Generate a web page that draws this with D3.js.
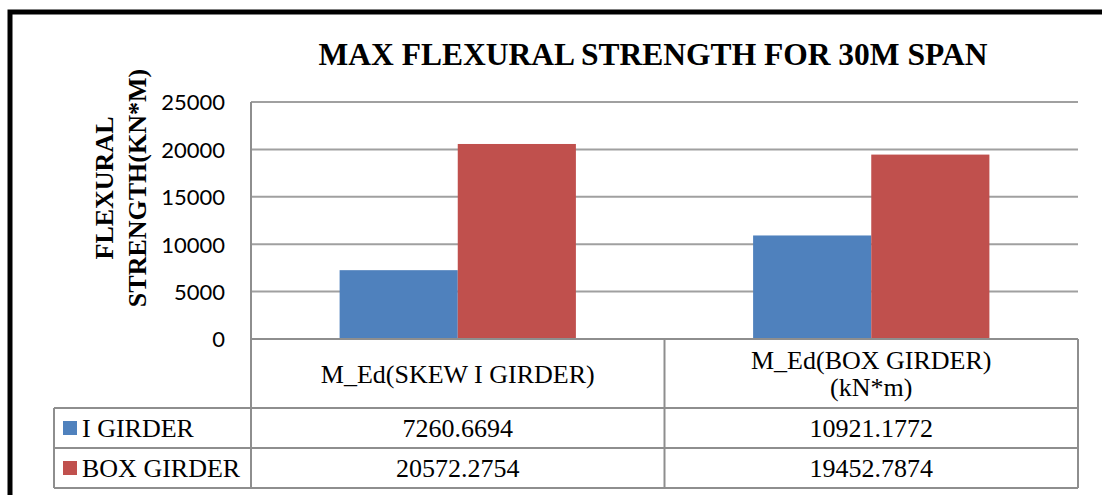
<!DOCTYPE html>
<html>
<head>
<meta charset="utf-8">
<script src="https://cdn.jsdelivr.net/npm/d3@7/dist/d3.min.js"></script>
<style>
	html, body { margin: 0; padding: 0; background: #fff; }
	svg { display: block; }
</style>
</head>
<body>
<div id="chart"></div>
<script>
// chart data
const categories = ["M_Ed(SKEW I GIRDER)", "M_Ed(BOX GIRDER)\n(kN*m)"];
const seriesNames = ["I GIRDER", "BOX GIRDER"];
const iGirder = [7260.6694, 10921.1772];
const boxGirder = [20572.2754, 19452.7874];
const tableLabels = [["7260.6694", "10921.1772"], ["20572.2754", "19452.7874"]];
const yTicks = [0, 5000, 10000, 15000, 20000, 25000];
const colors = ["#4f81bd", "#c0504d"];

const W = 1102, H = 495;
const plot = { left: 251, right: 1078, top: 102, bottom: 339 };
const rowH = [69, 40, 40]; // category row, then one row per series
const legendLeft = 54;
const GRID = "#a0a0a0", TABLE = "#8e8e8e";
const serif = "'Liberation Serif', 'Times New Roman', serif";

const svg = d3.select("#chart").append("svg")
	.attr("width", W)
	.attr("height", H);

// outer frame (goes off the right and bottom of the picture)
svg.append("rect")
	.attr("x", 10).attr("y", 12)
	.attr("width", W + 20).attr("height", H + 20)
	.attr("fill", "#fff")
	.attr("stroke", "#000")
	.attr("stroke-width", 5);

const x = d3.scaleBand()
	.domain(categories)
	.range([plot.left, plot.right]);

const xs = d3.scaleBand()
	.domain(seriesNames)
	.range([0, x.bandwidth()])
	.paddingOuter(0.75);

const y = d3.scaleLinear()
	.domain([0, 25000])
	.range([plot.bottom, plot.top]);

// gridlines
svg.append("g")
	.selectAll("line")
	.data(yTicks)
	.join("line")
	.attr("x1", plot.left).attr("x2", plot.right)
	.attr("y1", d => y(d)).attr("y2", d => y(d))
	.attr("stroke", GRID)
	.attr("stroke-width", 2);

// bars
const series = [iGirder, boxGirder];
const bars = svg.append("g");
series.forEach((vals, s) => {
	bars.selectAll(null)
		.data(vals)
		.join("rect")
		.attr("x", (d, i) => x(categories[i]) + xs(seriesNames[s]))
		.attr("y", d => y(d))
		.attr("width", xs.bandwidth())
		.attr("height", d => y(0) - y(d))
		.attr("fill", colors[s]);
});

// y axis tick labels
const yAxis = d3.axisLeft(y)
	.tickValues(yTicks)
	.tickFormat(d3.format("d"))
	.tickSize(0)
	.tickPadding(26);
svg.append("g")
	.attr("transform", `translate(${plot.left},0)`)
	.call(yAxis)
	.call(g => g.select(".domain").remove())
	.selectAll("text")
	.attr("font-family", "Lato, 'Open Sans', sans-serif")
	.attr("font-size", 22)
	.attr("fill", "#000")
	.attr("dy", "0.36em");

// title
svg.append("text")
	.attr("x", 653).attr("y", 65)
	.attr("text-anchor", "middle")
	.attr("font-family", serif)
	.attr("font-weight", "bold")
	.attr("font-size", 31.5)
	.text("MAX FLEXURAL STRENGTH FOR 30M SPAN");

// y axis title, two lines
[["FLEXURAL", 113], ["STRENGTH(KN*M)", 146]].forEach(([t, bx]) => {
	svg.append("text")
		.attr("transform", `translate(${bx},188) rotate(-90)`)
		.attr("text-anchor", "middle")
		.attr("font-family", serif)
		.attr("font-weight", "bold")
		.attr("font-size", 26)
		.text(t);
});

// data table
const rowY = [plot.bottom];
rowH.forEach(h => rowY.push(rowY[rowY.length - 1] + h));
const tbl = svg.append("g")
	.attr("stroke", TABLE)
	.attr("stroke-width", 2)
	.attr("fill", "none");

const hLines = [
	[plot.left, plot.right, rowY[0]],
	[legendLeft, plot.right, rowY[1]],
	[legendLeft, plot.right, rowY[2]],
	[legendLeft, plot.right, rowY[3]]
];
tbl.selectAll("line.h")
	.data(hLines)
	.join("line")
	.attr("x1", d => d[0]).attr("x2", d => d[1])
	.attr("y1", d => d[2]).attr("y2", d => d[2]);

const vLines = [
	[legendLeft, rowY[1], rowY[3]],
	[plot.left, plot.top, rowY[3]],
	[plot.left + x.step(), rowY[0], rowY[3]],
	[plot.right, rowY[0], rowY[3]]
];
tbl.selectAll("line.v")
	.data(vLines)
	.join("line")
	.attr("x1", d => d[0]).attr("x2", d => d[0])
	.attr("y1", d => d[1]).attr("y2", d => d[2]);

// category labels
categories.forEach(c => {
	const lines = c.split("\n");
	const cy = (rowY[0] + rowY[1]) / 2;
	const lh = 27;
	const t = svg.append("text")
		.attr("text-anchor", "middle")
		.attr("font-family", serif)
		.attr("font-size", 26);
	lines.forEach((ln, i) => {
		t.append("tspan")
			.attr("x", x(c) + x.bandwidth() / 2)
			.attr("y", cy + (i - (lines.length - 1) / 2) * lh + 9)
			.text(ln);
	});
});

// value cells and legend keys
tableLabels.forEach((row, s) => {
	const cy = (rowY[s + 1] + rowY[s + 2]) / 2;
	row.forEach((v, i) => {
		svg.append("text")
			.attr("x", x(categories[i]) + x.bandwidth() / 2)
			.attr("y", cy + 9)
			.attr("text-anchor", "middle")
			.attr("font-family", serif)
			.attr("font-size", 26)
			.text(v);
	});
	svg.append("rect")
		.attr("x", 63).attr("y", cy - 7)
		.attr("width", 14).attr("height", 14)
		.attr("fill", colors[s]);
	svg.append("text")
		.attr("x", 82).attr("y", cy + 9)
		.attr("font-family", serif)
		.attr("font-size", 26)
		.text(seriesNames[s]);
});
</script>
</body>
</html>
